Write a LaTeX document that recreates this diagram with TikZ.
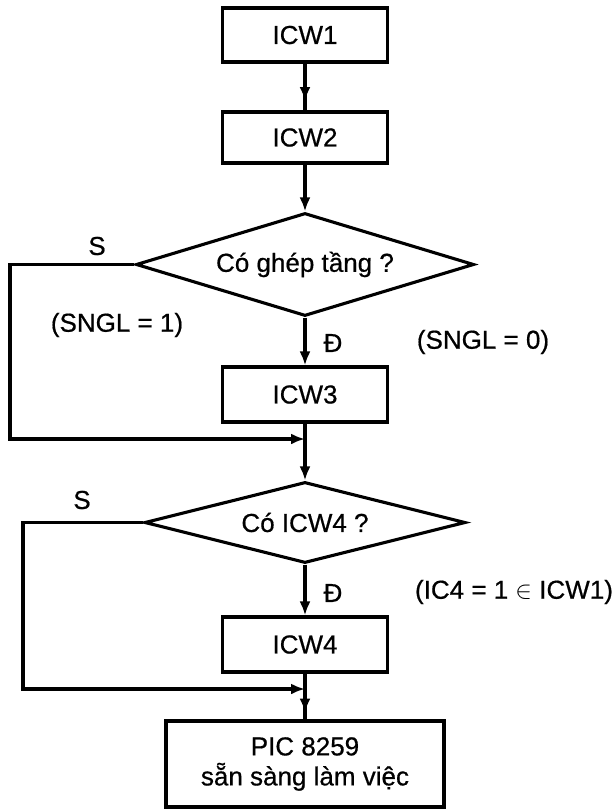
\documentclass[tikz,border=0pt]{standalone}
\usepackage{fontspec}
\setmainfont{Liberation Sans}[FakeBold=0.6]
\usetikzlibrary{shapes.geometric,arrows.meta,decorations.markings}
\begin{document}
\begin{tikzpicture}[x=1pt,y=-1pt,line width=3.1pt,
  txt/.style={font=\fontsize{26}{30}\selectfont},
  box/.style={draw,rectangle,txt,minimum width=165pt,minimum height=53pt,inner sep=0pt,align=center},
  dec/.style={draw,diamond,txt,inner sep=0pt},
  lbl/.style={txt,inner sep=0pt},
  arr/.style={-{Latex[length=14pt,width=11pt]}},
  midarr/.style={postaction={decorate},decoration={markings,mark=at position #1 with {\arrow{Latex[length=14pt,width=11pt]}}}}]
\useasboundingbox (0,0) rectangle (616,809);
\node[box,minimum height=54pt] (icw1) at (305,35) {ICW1};
\node[box,minimum height=51pt] (icw2) at (305,137.5) {ICW2};
\node[dec,minimum width=338pt,minimum height=103pt,aspect=3.28] (d1) at (305,264.5) {Có ghép tầng ?};
\node[box,minimum height=55pt] (icw3) at (305,394.5) {ICW3};
\node[dec,minimum width=321pt,minimum height=81pt,aspect=3.96] (d2) at (305,522.5) {Có ICW4 ?};
\node[box,minimum height=55pt] (icw4) at (305,644.5) {ICW4};
\node[box,minimum width=278pt,minimum height=86pt] (pic) at (305,764) {PIC 8259\\sẵn sàng làm việc};
\coordinate (c1) at (10,439);
\coordinate (j1) at (305,439);
\coordinate (c2) at (23,689);
\coordinate (j2) at (305,689);
\draw[midarr=0.8] (icw1) -- (icw2);
\draw[arr] (icw2) -- (d1);
\draw[arr] (d1) -- (icw3);
\draw[arr] (d1.west) -| (c1) -- (j1);
\draw[arr] (icw3) -- (d2);
\draw[arr] (d2.west) -| (c2) -- (j2);
\draw[arr] (d2) -- (icw4);
\draw[midarr=0.85] (icw4) -- (pic);
\node[lbl] (s1) at (97,246) {S};
\node[lbl] (s2) at (82,500) {S};
\node[lbl] (sn1) at (117,325) {(SNGL = 1)};
\node[lbl] (dd1) at (333,343) {Đ};
\node[lbl] (sn0) at (483,342) {(SNGL = 0)};
\node[lbl] (dd2) at (333,593) {Đ};
\node[lbl] (ic4) at (514,592) {(IC4 = 1 {\fontsize{24}{24}\selectfont$\in$} ICW1)};
\end{tikzpicture}
\end{document}
